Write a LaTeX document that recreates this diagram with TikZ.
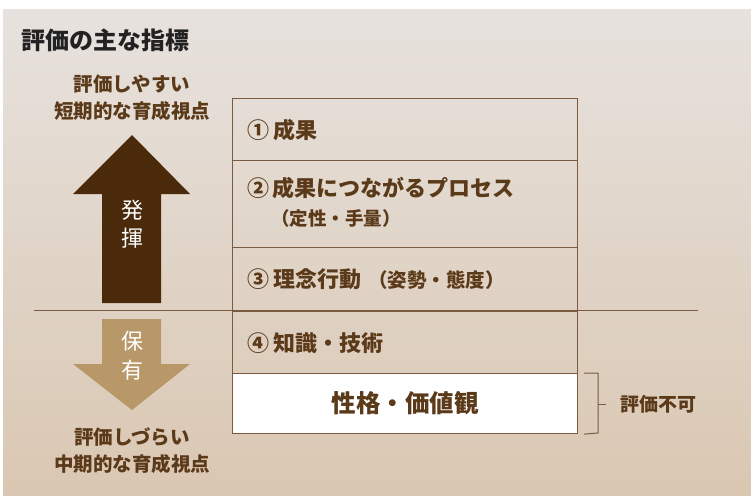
\documentclass[tikz,border=0pt]{standalone}
\usepackage{fontspec}
\setmainfont{Noto Sans CJK JP}
\newfontfamily\jp{Noto Sans CJK JP}
\usetikzlibrary{calc}
\definecolor{txtbrown}{HTML}{5B3A1A}
\definecolor{linebrown}{HTML}{7A5A40}
\definecolor{darkarrow}{HTML}{4A2A0A}
\definecolor{tanarrow}{HTML}{B89868}
\definecolor{bgtop}{HTML}{E7E2DE}
\definecolor{bgbot}{HTML}{DAC7B2}
\definecolor{titlegray}{HTML}{222222}
\tikzset{
  rowbox/.style={draw=linebrown, line width=1.1pt, minimum width=345pt, anchor=north west, inner sep=0pt},
  rowtext/.style={anchor=west, text=txtbrown, font=\jp\bfseries\fontsize{22}{24}\selectfont, inner sep=0pt},
  sidetext/.style={text=txtbrown, font=\jp\bfseries\fontsize{19.5}{27}\selectfont, align=center, inner sep=0pt},
  arrowtext/.style={text=white, font=\jp\fontsize{22}{24}\selectfont, inner sep=0pt},
}
\begin{document}
\begin{tikzpicture}[x=1pt,y=-1pt]
\useasboundingbox (0,0) rectangle (751,495);
\fill[white] (0,0) rectangle (751,495);
\shade[top color=bgtop, bottom color=bgbot] (3,10) rectangle (751,495);
% title
\node[anchor=west, text=titlegray, font=\jp\bfseries\fontsize{24}{26}\selectfont, inner sep=0pt] (title) at (21,40) {評価の主な指標};
% side texts
\node[sidetext] (easy) at (132,98) {評価しやすい\\短期的な育成視点};
\node[sidetext] (hard) at (132,451) {評価しづらい\\中期的な育成視点};
% rows
\node[rowbox, minimum height=62pt] (r1) at (232,98) {};
\node[rowbox, minimum height=87pt] (r2) at (232,160) {};
\node[rowbox, minimum height=64pt] (r3) at (232,247) {};
\node[rowbox, minimum height=62pt] (r4) at (232,311) {};
\node[rowbox, fill=white, minimum height=60pt] (r5) at (232,373) {};
\node[rowtext] (t1) at (247,130) {①\hspace{4pt}成果};
\node[rowtext] (t2) at (247,188) {②\hspace{3pt}成果につながるプロセス};
\node[rowtext, font=\jp\bfseries\fontsize{18.5}{20}\selectfont] (t2b) at (271,218) {（定性・手量）};
\node[rowtext] (t3) at (247,279) {③\hspace{4pt}理念行動\hspace{7pt}\fontsize{19.5}{21}\selectfont（姿勢・態度）};
\node[rowtext] (t4) at (247,343) {④\hspace{4pt}知識・技術};
\node[text=txtbrown, font=\jp\bfseries\fontsize{24.5}{26}\selectfont, inner sep=0pt] (t5) at (r5.center) {性格・価値観};
% divider line
\coordinate (dl) at (34,310.5);
\coordinate (dr) at (698,310.5);
\draw[linebrown, line width=1.3pt] (dl) -- (dr);
% arrows
\fill[darkarrow] (132,135) -- (190,194) -- (161,194) -- (161,303) -- (102,303) -- (102,194) -- (73,194) -- cycle;
\fill[tanarrow] (102,319) -- (161,319) -- (161,364) -- (190,364) -- (132,410) -- (73,364) -- (102,364) -- cycle;
\node[arrowtext] (a1) at (132,210) {発};
\node[arrowtext] (a2) at (132,238) {揮};
\node[arrowtext] (a3) at (132,341) {保};
\node[arrowtext] (a4) at (132,370) {有};
% bracket
\node[text=txtbrown, font=\jp\bfseries\fontsize{19}{21}\selectfont, anchor=west, inner sep=0pt] (nv) at (620,404) {評価不可};
\coordinate (b1) at ($(r5.north east)+(6,0)$);
\coordinate (b2) at ($(r5.south east)+(6,0)$);
\coordinate (bm) at (598,404);
\draw[linebrown, line width=1pt] (b1) -- (598,373) -- (598,433) -- (b2);
\draw[linebrown, line width=1pt] (bm) -- (606,404);
\end{tikzpicture}
\end{document}
